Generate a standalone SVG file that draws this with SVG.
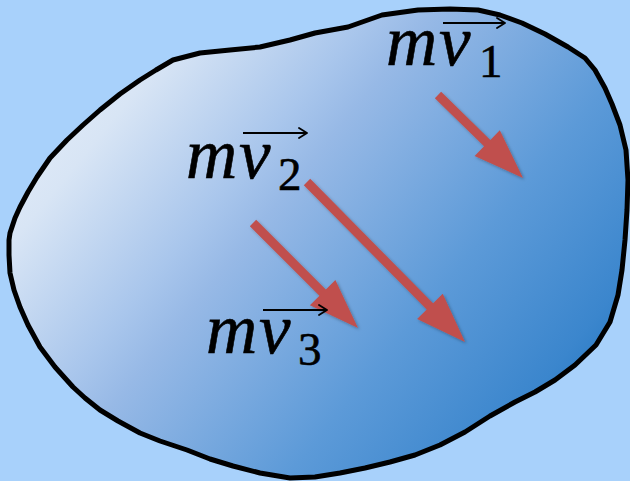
<svg xmlns="http://www.w3.org/2000/svg" width="630" height="481" viewBox="0 0 630 481">
  <defs>
    <linearGradient id="blobGrad" gradientUnits="userSpaceOnUse" x1="35" y1="28" x2="543" y2="444">
      <stop offset="0" stop-color="#e8f0fa"/>
      <stop offset="0.18" stop-color="#d8e5f5"/>
      <stop offset="0.38" stop-color="#a9c6ec"/>
      <stop offset="0.455" stop-color="#97b9e6"/>
      <stop offset="0.73" stop-color="#5c9ad8"/>
      <stop offset="0.94" stop-color="#3b86cd"/>
      <stop offset="1" stop-color="#2c7cc6"/>
    </linearGradient>
    <marker id="vecHead" markerUnits="userSpaceOnUse" markerWidth="12" markerHeight="12" viewBox="0 0 12 12" refX="11" refY="6" orient="auto">
      <path d="M3,1 L11,6 L3,11" fill="none" stroke="#000" stroke-width="1.8" stroke-linecap="round" stroke-linejoin="round"/>
    </marker>
    <filter id="shadow" x="-20%" y="-20%" width="140%" height="140%">
      <feDropShadow dx="1.5" dy="1.5" stdDeviation="1.5" flood-color="#000" flood-opacity="0.3"/>
    </filter>
  </defs>
  <style>
    .lbl { font-family: "Liberation Serif", "DejaVu Serif", serif; font-style: italic; font-size: 71px; fill: #000; stroke: #000; stroke-width: 0.6; }
    .sub { font-style: normal; font-size: 47px; }
    .vec { stroke: #000; stroke-width: 1.8; fill: none; marker-end: url(#vecHead); }
    .force { fill: #c0504d; filter: url(#shadow); }
  </style>

  <rect x="0" y="0" width="630" height="481" fill="#a8d1fb"/>

  <g id="body">
    <path d="M418,10 L450,9 L478,10 L500,15 L522,23 L545,34 L568,47 L585,58 L595,70 L605,88 L612,104 L620,125 L626,150 L628,180 L627,210 L625,240 L622,270 L618,295 L610,322 L596,345 L575,365 L555,380 L535,392 L515,402 L490,416 L465,432 L440,445 L415,455 L390,462 L365,468 L340,473 L315,477 L290,478 L260,473 L233,466 L210,459 L187,450 L160,441 L140,433 L118,421 L100,410 L85,398 L73,387 L55,367 L40,347 L28,325 L20,307 L14,290 L10,273 L9,255 L9,240 L10,233 L15,218 L20,207 L28,192 L37,177 L50,158 L67,140 L83,125 L100,110 L120,94 L140,80 L156,70 L173,60 L200,53 L230,50 L260,47 L290,40 L315,33 L348,27 L382,15 Z" fill="url(#blobGrad)" stroke="#000" stroke-width="5" stroke-linejoin="round"/>
  </g>

  <g id="arrows">
    <polygon class="force" points="434.85,98.22 484.05,146.32 474.62,155.97 523,178 499.78,130.23 490.35,139.88 441.15,91.78"/>
    <polygon class="force" points="303.8,185.16 426.7,309.56 417.09,319.05 465,342 442.71,293.75 433.1,303.24 310.2,178.84"/>
    <polygon class="force" points="249.82,226.18 319.46,295.82 309.91,305.37 358,328 335.37,279.91 325.82,289.46 256.18,219.82"/>
  </g>

  <g id="label1">
    <text class="lbl"><tspan x="386" y="65">m</tspan><tspan x="439" y="65">v</tspan><tspan class="sub" x="479" y="77">1</tspan></text>
    <line class="vec" x1="443" y1="23" x2="505" y2="23"/>
  </g>
  <g id="label2">
    <text class="lbl"><tspan x="186" y="178">m</tspan><tspan x="239" y="178">v</tspan><tspan class="sub" x="278" y="190">2</tspan></text>
    <line class="vec" x1="243" y1="133" x2="307" y2="133"/>
  </g>
  <g id="label3">
    <text class="lbl"><tspan x="206" y="353">m</tspan><tspan x="259" y="353">v</tspan><tspan class="sub" x="298" y="365">3</tspan></text>
    <line class="vec" x1="263" y1="310" x2="327" y2="310"/>
  </g>
</svg>
